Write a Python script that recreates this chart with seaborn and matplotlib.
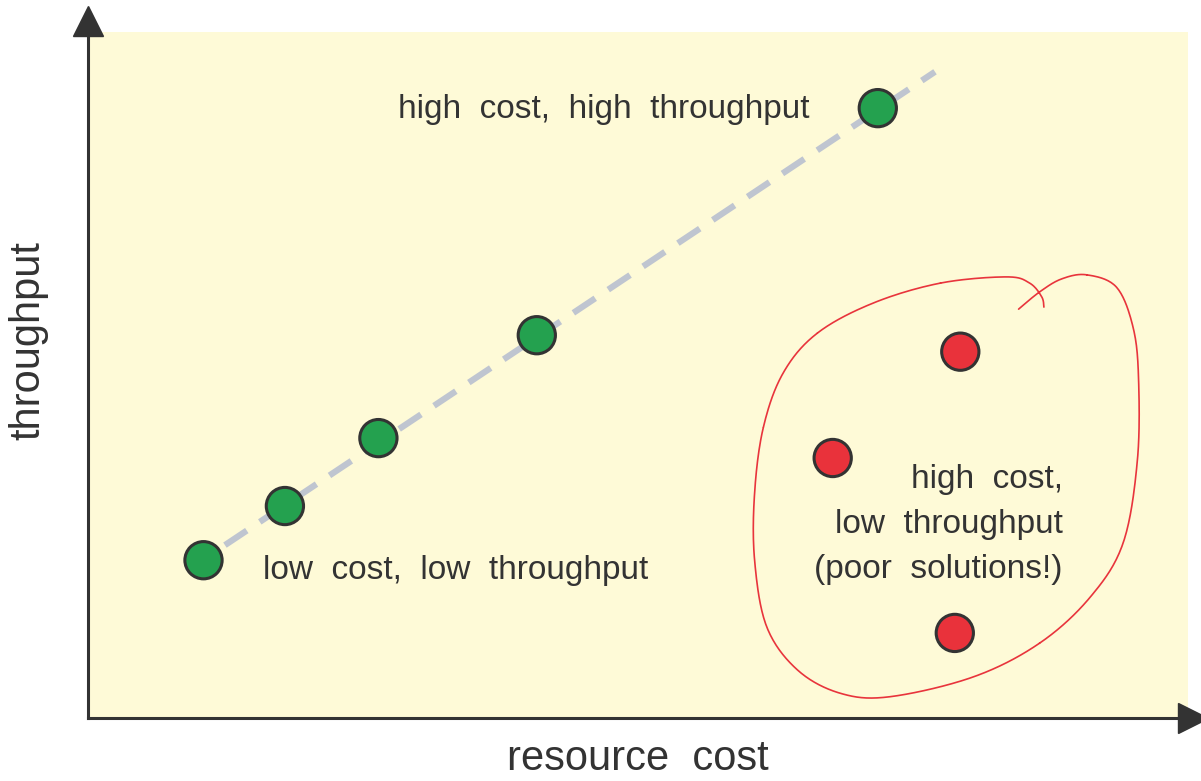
import numpy as np
import pandas as pd
import matplotlib
matplotlib.use("Agg")
import matplotlib.pyplot as plt
import seaborn as sns

# ---- data (x: resource cost, y: throughput, arbitrary units 0-100) ----
good_cost = [10.5, 17.9, 26.4, 40.8, 71.8]
good_tput = [23.0, 30.9, 40.8, 55.8, 88.9]
poor_cost = [79.3, 67.7, 78.8]
poor_tput = [53.4, 37.9, 12.4]
trend_cost = [12.45, 77.0]
trend_tput = [25.2, 94.2]

# hand-drawn loop around the poor solutions
loop_cost = [84.6, 86.5, 88.5, 90.8, 93.5, 95.0, 95.5, 95.4, 94.1, 91.1, 86.5, 80.5,
             72.9, 68.4, 64.5, 61.7, 60.6, 60.6, 61.4, 63.2, 66.3, 71.4, 77.5, 83.5,
             85.6, 86.7, 86.9]
loop_tput = [59.6, 62.1, 64.0, 64.6, 62.8, 57.0, 49.7, 37.6, 25.5, 17.6, 10.9, 6.0,
             3.1, 3.6, 7.0, 13.3, 23.0, 32.8, 42.4, 50.3, 56.1, 60.5, 63.4, 64.3,
             63.4, 61.4, 59.9]

labels = ["high  cost,  high  throughput", "low  cost,  low  throughput",
          "high  cost,\nlow  throughput\n(poor  solutions!)"]
x_title = "resource  cost"
y_title = "throughput"

GREEN = "#24A14F"
RED = "#E9323B"
EDGE = "#333333"
BG = "#FEFAD7"
TXT = "#333333"

sns.set_style("white")
plt.rcParams["font.family"] = ["Liberation Sans", "DejaVu Sans"]

df = pd.DataFrame({
    "cost": good_cost + poor_cost,
    "tput": good_tput + poor_tput,
    "kind": ["good"] * len(good_cost) + ["poor"] * len(poor_cost),
})

W, H = 1201, 781
fig = plt.figure(figsize=(W / 100, H / 100), dpi=100)
ax = fig.add_axes([88 / W, (781 - 718) / H, 1100 / W, 686 / H])
ax.set_facecolor(BG)
ax.set_xlim(0, 100)
ax.set_ylim(0, 100)

# dashed trend line
sns.lineplot(x=trend_cost, y=trend_tput, ax=ax, color="#BFC5D0", lw=4.5,
             dashes=False, zorder=2)
ax.lines[-1].set_dashes([4.2, 2.5])
ax.lines[-1].set_dash_capstyle("butt")

# points
sns.scatterplot(data=df, x="cost", y="tput", hue="kind",
                palette={"good": GREEN, "poor": RED}, s=720,
                edgecolor=EDGE, linewidth=2.2, legend=False, ax=ax, zorder=3)

# smooth hand-drawn loop (Catmull-Rom through the traced points)
P = np.column_stack([loop_cost, loop_tput])
P = np.vstack([P[0], P, P[-1]])
curve = []
for i in range(1, len(P) - 2):
    p0, p1, p2, p3 = P[i - 1], P[i], P[i + 1], P[i + 2]
    t = np.linspace(0, 1, 20)[:, None]
    c = 0.5 * ((2 * p1) + (-p0 + p2) * t + (2 * p0 - 5 * p1 + 4 * p2 - p3) * t ** 2
               + (-p0 + 3 * p1 - 3 * p2 + p3) * t ** 3)
    curve.append(c)
curve = np.vstack(curve)
ax.plot(curve[:, 0], curve[:, 1], color="#E8343C", lw=1.2, zorder=2)

# annotations
fs = 24
ax.text(65.6, 88.7, labels[0], ha="right", va="center", fontsize=fs, color=TXT)
ax.text(15.9, 21.5, labels[1], ha="left", va="center", fontsize=fs, color=TXT)
ax.text(88.6, 28.2, labels[2], ha="right", va="center", fontsize=fs, color=TXT,
        multialignment="right", linespacing=1.6)

# axes styling
sns.despine(ax=ax, top=True, right=True)
for side in ("left", "bottom"):
    ax.spines[side].set_linewidth(2.2)
    ax.spines[side].set_color(EDGE)
ax.set_xticks([])
ax.set_yticks([])
ax.plot([0], [1.0165], marker="^", markersize=21, color=EDGE,
        transform=ax.transAxes, clip_on=False)
ax.plot([1.0045], [0], marker=">", markersize=21, color=EDGE,
        transform=ax.transAxes, clip_on=False)

ax.set_xlabel(x_title, fontsize=30, color=TXT)
ax.set_ylabel(y_title, fontsize=30, color=TXT)
ax.xaxis.set_label_coords(0.5, -0.031)
ax.yaxis.set_label_coords(-0.036, 0.55)

fig.savefig("out.png", dpi=100, facecolor="white")
